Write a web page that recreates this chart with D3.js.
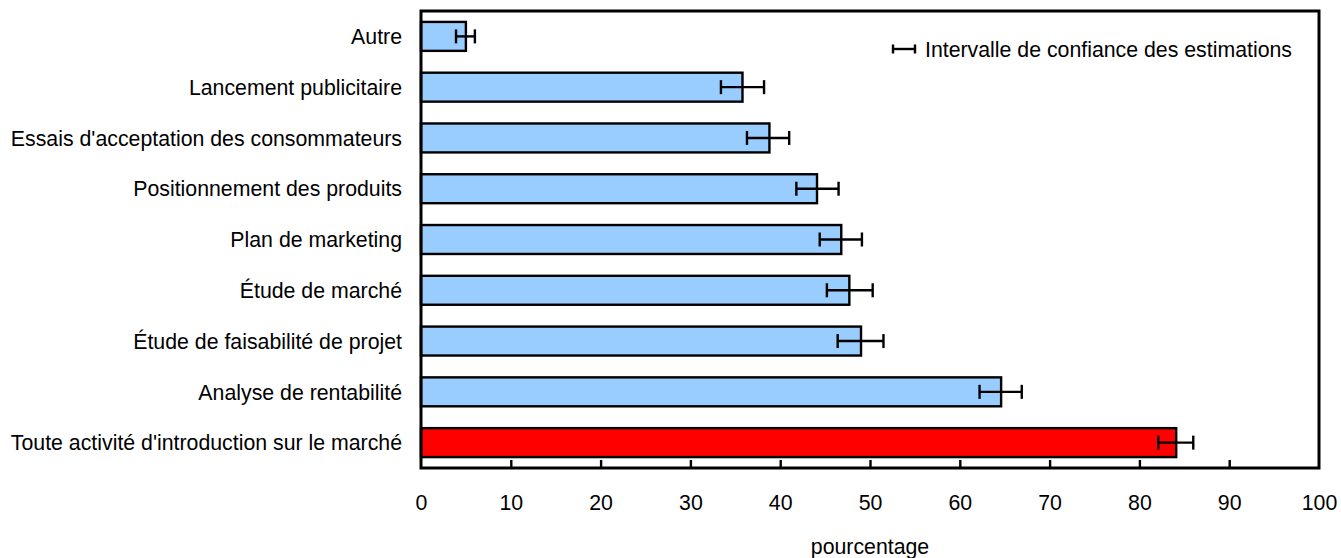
<!DOCTYPE html>
<html><head><meta charset="utf-8">
<script src="https://cdn.jsdelivr.net/npm/d3@7"></script>
<style>body{margin:0;background:#fff}svg{display:block}text{font-family:Arial,"Liberation Sans",sans-serif;fill:#000}</style>
</head><body>
<svg id="c" width="1341" height="558"></svg>
<script>
const categories = ["Autre","Lancement publicitaire","Essais d'acceptation des consommateurs","Positionnement des produits","Plan de marketing","Étude de marché","Étude de faisabilité de projet","Analyse de rentabilité","Toute activité d'introduction sur le marché"];
const values = [5.0, 35.8, 38.8, 44.1, 46.8, 47.7, 49.0, 64.6, 84.1];
const lower  = [3.9, 33.4, 36.3, 41.8, 44.4, 45.2, 46.4, 62.2, 82.1];
const upper  = [6.0, 38.2, 41.0, 46.5, 49.1, 50.3, 51.5, 66.9, 86.0];
const highlight = [false,false,false,false,false,false,false,false,true];
const xTicks = [0,10,20,30,40,50,60,70,80,90,100];
const xTitle = "pourcentage";
const legendLabel = "Intervalle de confiance des estimations";

const svg = d3.select("#c");
const L = 421, R = 1319, T = 11, B = 468;
const x = d3.scaleLinear().domain([0,100]).range([L,R]);
const y = d3.scaleBand().domain(categories).range([T,B]).paddingInner(0.43).paddingOuter(0.215);
const FS = 21.3;

const data = categories.map((c,i)=>({c, v:values[i], lo:lower[i], hi:upper[i], h:highlight[i]}));

// bars
svg.append("g").selectAll("rect").data(data).join("rect")
  .attr("x", x(0)).attr("y", d=>y(d.c))
  .attr("width", d=>x(d.v)-x(0)).attr("height", y.bandwidth())
  .attr("fill", d=>d.h ? "#FF0000" : "#99CCFF")
  .attr("stroke", "#000").attr("stroke-width", 2.4);

// error bars
const eb = svg.append("g").attr("stroke","#000").attr("stroke-width",2.4);
data.forEach(d=>{
  const cy = y(d.c) + y.bandwidth()/2;
  eb.append("line").attr("x1",x(d.lo)).attr("x2",x(d.hi)).attr("y1",cy).attr("y2",cy);
  eb.append("line").attr("x1",x(d.lo)).attr("x2",x(d.lo)).attr("y1",cy-7).attr("y2",cy+7);
  eb.append("line").attr("x1",x(d.hi)).attr("x2",x(d.hi)).attr("y1",cy-7).attr("y2",cy+7);
});

// x axis ticks (inside) and labels
const xAxis = d3.axisBottom(x).tickValues(xTicks).tickSize(0).tickPadding(0).tickFormat(d3.format("d"));
const gx = svg.append("g").attr("transform",`translate(0,${B})`).call(xAxis);
gx.select(".domain").remove();
gx.selectAll("text").attr("y", 42).attr("dy", 0).style("font-size", FS+"px").style("font-family","Arial, 'Liberation Sans', sans-serif").attr("fill","#000");
gx.selectAll(".tick").filter(d=>d>0 && d<100).append("line")
  .attr("y1",0).attr("y2",-8).attr("stroke","#000").attr("stroke-width",2.4);

// y labels
const yAxis = d3.axisLeft(y).tickSize(0).tickPadding(0);
const gy = svg.append("g").attr("transform",`translate(${L-19},0)`).call(yAxis);
gy.select(".domain").remove();
gy.selectAll("text").style("font-size", FS+"px").style("font-family","Arial, 'Liberation Sans', sans-serif").attr("fill","#000").attr("dy","0.36em");

// frame
svg.append("rect").attr("x",L).attr("y",T).attr("width",R-L).attr("height",B-T)
  .attr("fill","none").attr("stroke","#000").attr("stroke-width",3);

// axis title
svg.append("text").attr("x",(L+R)/2).attr("y",554).attr("text-anchor","middle")
  .style("font-size",FS+"px").text(xTitle);

// legend
const lg = svg.append("g").attr("stroke","#000").attr("stroke-width",2.4);
lg.append("line").attr("x1",893).attr("x2",915).attr("y1",49).attr("y2",49);
lg.append("line").attr("x1",893).attr("x2",893).attr("y1",44.5).attr("y2",53.5);
lg.append("line").attr("x1",915).attr("x2",915).attr("y1",44.5).attr("y2",53.5);
svg.append("text").attr("x",925).attr("y",49).attr("dy","0.36em").style("font-size",FS+"px").text(legendLabel);
</script>
</body></html>
